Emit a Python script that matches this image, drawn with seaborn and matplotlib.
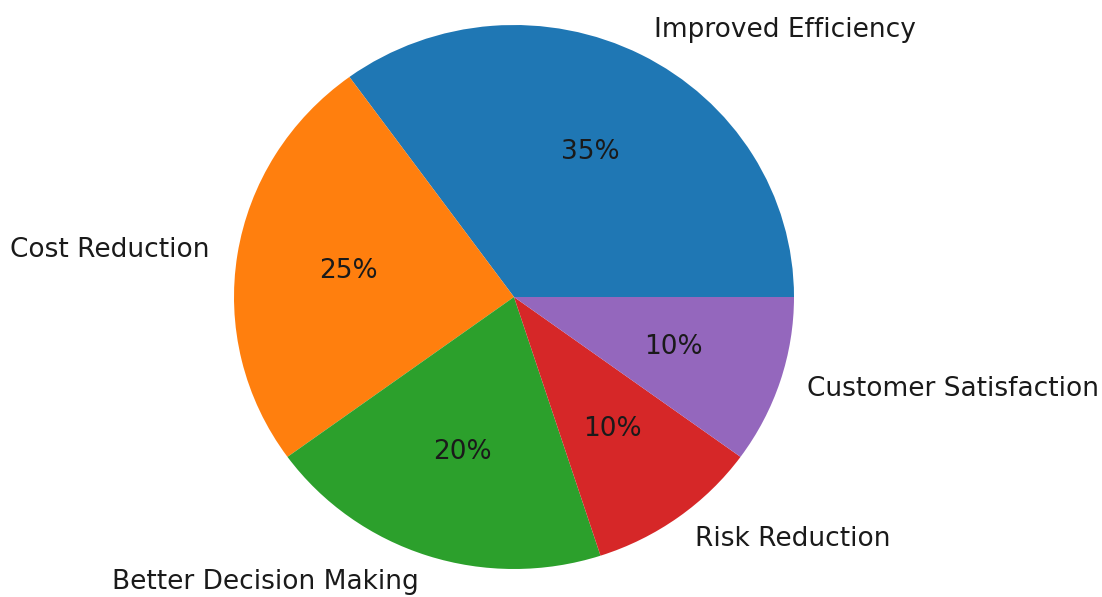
import matplotlib
matplotlib.use('Agg')
import matplotlib.pyplot as plt
import seaborn as sns

labels = ['Improved Efficiency', 'Cost Reduction', 'Better Decision Making',
          'Risk Reduction', 'Customer Satisfaction']
shares = [35, 25, 20, 10, 10]


def main():
	colors = sns.color_palette('tab10', len(shares))
	fig = plt.figure(figsize=(11.02, 5.97), dpi=100)
	# pie centred at (514, 296) from top, slightly wider than tall like the reference
	ax = fig.add_axes([(514 - 350) / 1102, (300 - 340) / 597, 700 / 1102, 680 / 597])
	ax.pie(shares, labels=labels, colors=colors, autopct='%1.0f%%',
	       textprops={'fontsize': 19, 'color': '#1a1a1a'})
	ax.set_aspect('auto')
	ax.set_xlim(-1.25, 1.25)
	ax.set_ylim(-1.25, 1.25)
	fig.savefig('out.png', dpi=100, facecolor='white')


if __name__ == '__main__':
	main()
